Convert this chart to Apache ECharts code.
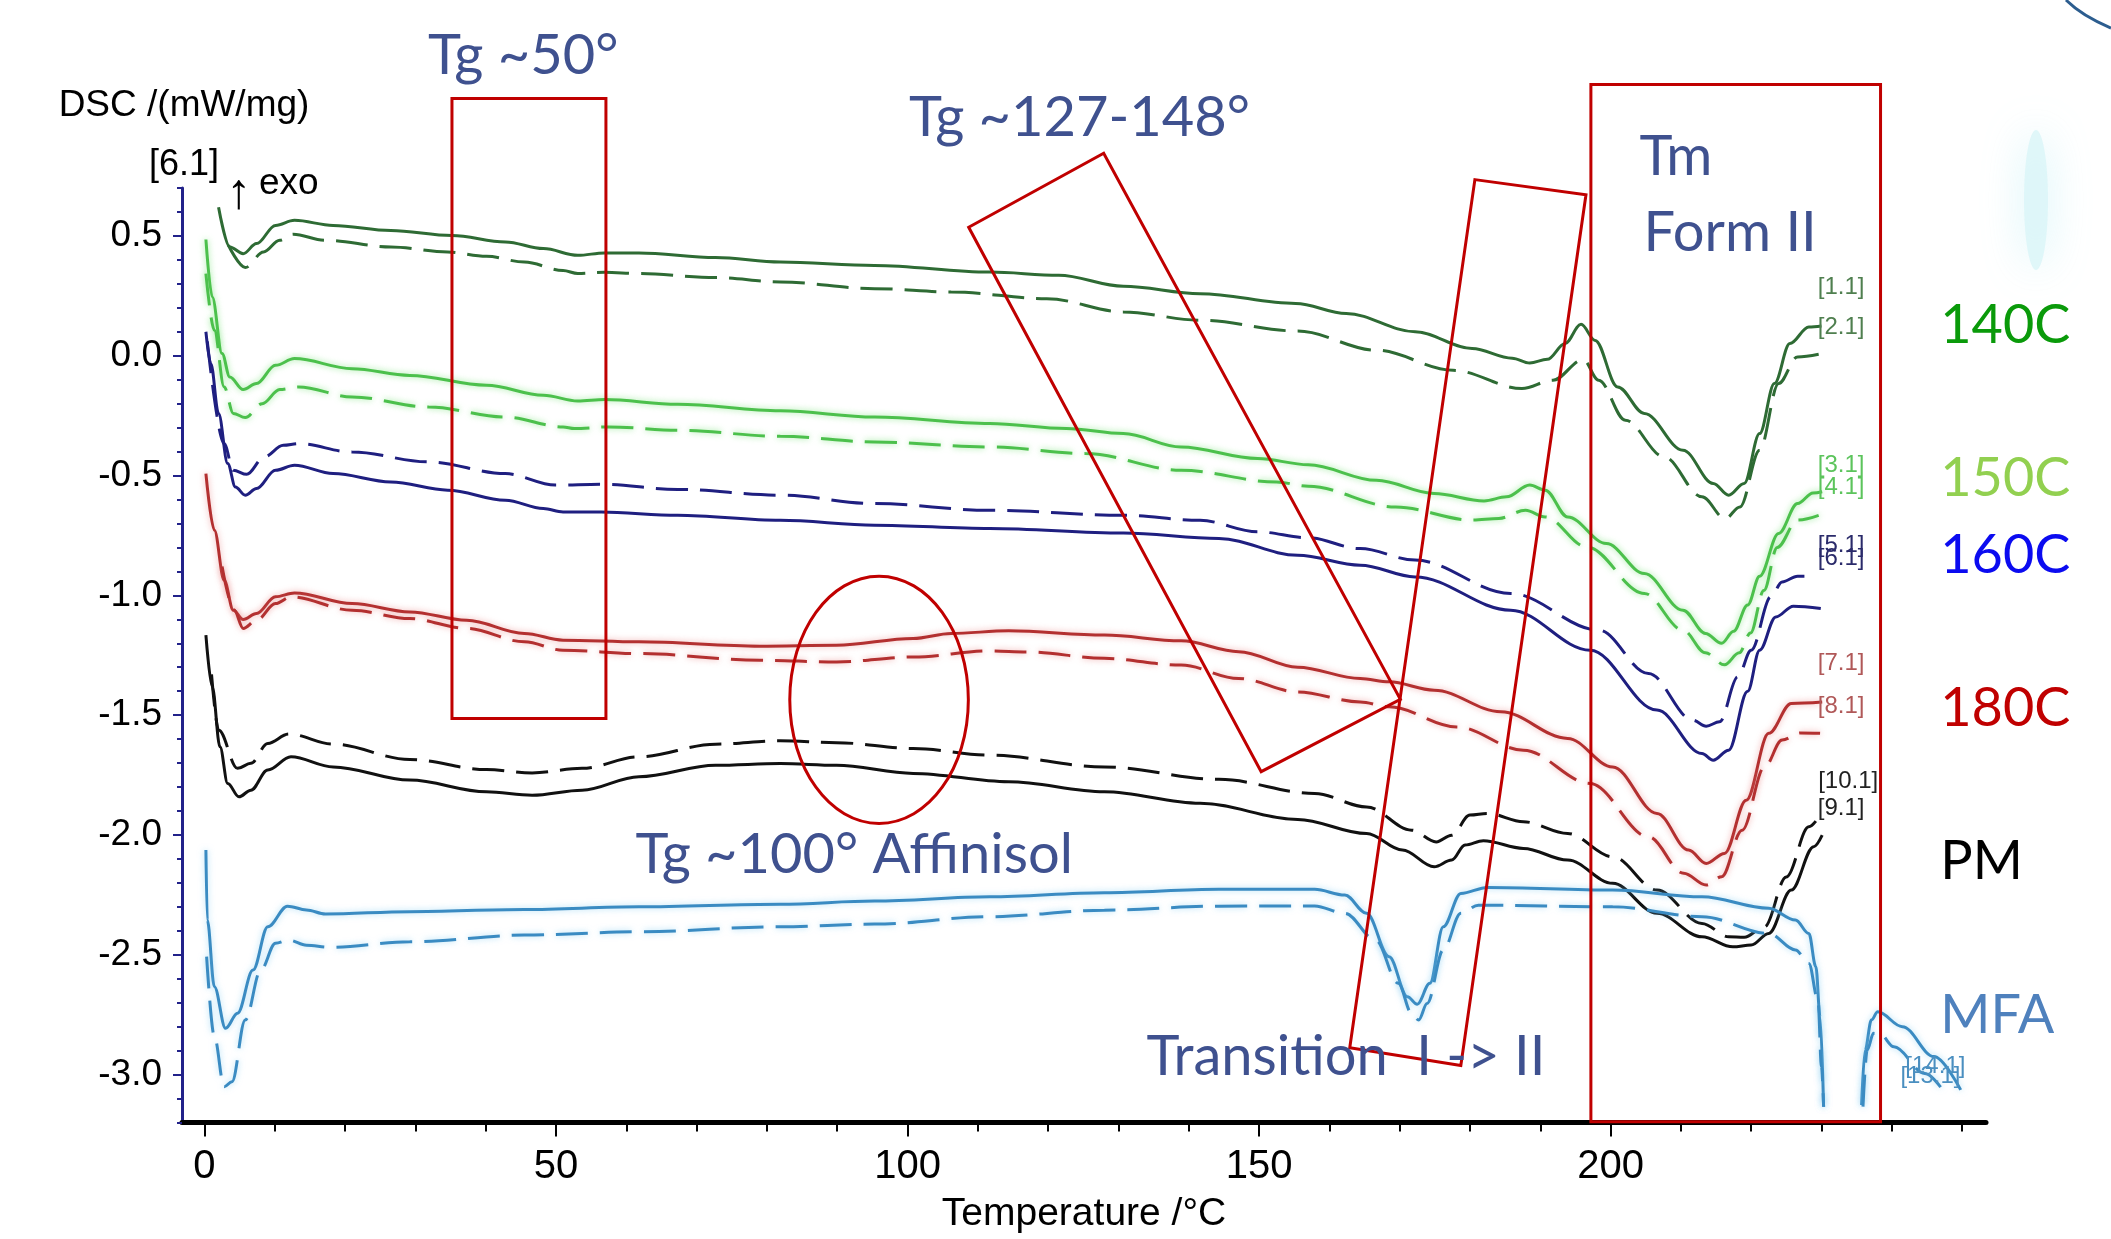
<!DOCTYPE html>
<html>
<head>
<meta charset="utf-8">
<title>DSC</title>
<script src="https://cdn.jsdelivr.net/npm/echarts@6/dist/echarts.min.js"></script>
<style>
html, body { margin: 0; padding: 0; background: #fff; }
#chart { width: 2111px; height: 1239px; }
</style>
</head>
<body>
<div id="chart"></div>
<script>
// tick positions
const xMajorTicks = [0, 50, 100, 150, 200];
const xMinorTicks = [10, 20, 30, 40, 60, 70, 80, 90, 110, 120, 130, 140, 160, 170, 180, 190, 210, 220, 230, 240, 250];
const yMajorTicks = [-3.0, -2.5, -2.0, -1.5, -1.0, -0.5, 0.0, 0.5];
const yMinorTicks = [-3.2, -3.1, -2.9, -2.8, -2.7, -2.6, -2.4, -2.3, -2.2, -2.1, -1.9, -1.8, -1.7, -1.6,
  -1.4, -1.3, -1.2, -1.1, -0.9, -0.8, -0.7, -0.6, -0.4, -0.3, -0.2, -0.1, 0.1, 0.2, 0.3, 0.4, 0.6, 0.7];

// [temperature, DSC]
const s140 = [[2.0,0.62],[3.6,0.454],[5.5,0.426],[7.4,0.468],[10.1,0.544],[12.8,0.565],[18.3,0.544],[26.5,0.523],[35.2,0.502],[42.8,0.475],[48.2,0.447],[53.1,0.419],[56.9,0.429],[61.8,0.429],[72.7,0.41],[81.9,0.391],[95.3,0.377],[111.7,0.349],[121.5,0.336],[130.7,0.29],[141.6,0.259],[155.2,0.218],[162.4,0.176],[172.2,0.1],[180.3,0.03],[186,-0.01],[188.5,-0.03],[191,-0.015],[193.5,0.05],[195.8,0.131],[197.8,0.064],[201,-0.13],[204.8,-0.241],[210.3,-0.394],[214.6,-0.533],[216.8,-0.582],[219,-0.533],[221.2,-0.325],[223.3,-0.116],[225.5,0.051],[228.2,0.12],[230,0.124]];
const d140 = [[3.4,0.461],[5.8,0.368],[8.4,0.433],[10.7,0.482],[12.6,0.507],[17.1,0.482],[26.5,0.454],[34.6,0.433],[40.1,0.415],[45.5,0.391],[51,0.356],[53.1,0.343],[56.9,0.348],[61.8,0.343],[72.7,0.326],[81.9,0.308],[95.3,0.28],[106.2,0.266],[119.8,0.238],[130.7,0.183],[141.6,0.148],[155.5,0.103],[166.7,0.023],[177.6,-0.061],[187.4,-0.137],[191.8,-0.102],[196.1,-0.016],[198.3,-0.102],[202.1,-0.269],[207.6,-0.422],[213,-0.589],[216.3,-0.68],[218.4,-0.631],[221.2,-0.394],[223.9,-0.116],[226.6,-0.005],[229.6,0.006]];
const s150 = [[0.2,0.485],[1.1,0.245],[2.5,0.009],[3.6,-0.089],[5.5,-0.141],[7.4,-0.116],[10.1,-0.04],[12.8,-0.012],[21,-0.054],[29.2,-0.082],[40.1,-0.123],[48.2,-0.165],[53.1,-0.189],[56.9,-0.183],[67.3,-0.203],[81.9,-0.23],[95.3,-0.256],[111.7,-0.283],[122.6,-0.304],[130.7,-0.325],[138.9,-0.381],[149.8,-0.429],[157,-0.455],[166.7,-0.52],[174.9,-0.575],[182,-0.606],[185.2,-0.589],[188.5,-0.54],[190.7,-0.561],[193.9,-0.673],[199.4,-0.784],[204.8,-0.909],[210.3,-1.062],[213.5,-1.159],[215.8,-1.2],[217.5,-1.15],[219.5,-1.04],[221.2,-0.92],[223.9,-0.742],[226.6,-0.617],[228.8,-0.573],[230.1,-0.568]];
const d150 = [[0.2,0.343],[1.4,0.106],[2.8,-0.13],[4.1,-0.241],[5.8,-0.258],[8.2,-0.2],[10.7,-0.141],[13.4,-0.13],[21,-0.172],[31.9,-0.214],[42.8,-0.256],[51,-0.297],[52.6,-0.304],[57.5,-0.297],[67.3,-0.311],[81.9,-0.336],[95.3,-0.36],[111.7,-0.381],[125.3,-0.408],[138.9,-0.478],[152.5,-0.527],[157,-0.545],[169.4,-0.631],[180.3,-0.686],[184.1,-0.679],[187.9,-0.645],[190.7,-0.673],[196.6,-0.798],[204.8,-0.992],[210.3,-1.145],[213.5,-1.24],[216.2,-1.29],[218.3,-1.24],[219.9,-1.157],[221.8,-0.98],[223.7,-0.8],[226.6,-0.686],[229.6,-0.666]];
const s160 = [[0.2,0.1],[0.9,-0.033],[2,-0.241],[3.3,-0.45],[4.4,-0.548],[5.8,-0.582],[7.4,-0.554],[10.1,-0.478],[12.8,-0.457],[18.3,-0.492],[26.5,-0.527],[34.6,-0.561],[42.8,-0.603],[48.2,-0.638],[51,-0.652],[56.4,-0.652],[67.3,-0.666],[81.9,-0.687],[95.3,-0.707],[111.7,-0.721],[130.7,-0.74],[144.3,-0.763],[155.5,-0.833],[164.4,-0.874],[172.2,-0.923],[185.8,-1.062],[197.1,-1.229],[206.6,-1.479],[213,-1.66],[214.6,-1.688],[216.8,-1.646],[219.5,-1.4],[221.2,-1.229],[223.5,-1.09],[226,-1.045],[229.9,-1.055]];
const d160 = [[0.4,0.06],[2.8,-0.367],[4.1,-0.478],[6,-0.495],[8.5,-0.422],[11.2,-0.374],[13.4,-0.367],[21,-0.402],[31.9,-0.443],[42.8,-0.492],[49.9,-0.54],[56.4,-0.536],[67.3,-0.558],[81.9,-0.582],[95.3,-0.617],[111.7,-0.645],[130.7,-0.666],[141.6,-0.687],[149.8,-0.735],[157,-0.76],[164.4,-0.805],[172.2,-0.853],[185.8,-0.992],[198.3,-1.145],[205.4,-1.326],[211.7,-1.521],[213.6,-1.546],[215.5,-1.528],[218.1,-1.34],[220,-1.229],[222.8,-1.006],[224.4,-0.944],[226.6,-0.92],[229,-0.92]];
const s180 = [[0.2,-0.492],[1.4,-0.728],[2.8,-0.937],[4.1,-1.062],[5.5,-1.101],[7.4,-1.076],[10.1,-1.006],[12.8,-0.99],[21,-1.034],[29.2,-1.069],[37.3,-1.104],[45.5,-1.159],[51,-1.187],[61.8,-1.194],[79,-1.212],[89.9,-1.208],[100.8,-1.18],[106.2,-1.159],[114.4,-1.148],[128,-1.166],[138.9,-1.19],[147.1,-1.235],[155.5,-1.3],[164.4,-1.347],[168.5,-1.361],[174.9,-1.396],[184.4,-1.486],[193.9,-1.597],[200.3,-1.716],[206.6,-1.91],[211.1,-2.063],[213.6,-2.119],[216.2,-2.077],[219.3,-1.855],[222.5,-1.576],[225.7,-1.451],[230.1,-1.445]];
const d180 = [[2.5,-0.88],[4.2,-1.06],[5.5,-1.138],[7.4,-1.104],[10.1,-1.034],[12.3,-1.006],[21,-1.062],[29.2,-1.097],[37.3,-1.138],[45.5,-1.194],[51,-1.229],[61.8,-1.243],[79,-1.271],[89.9,-1.278],[100.8,-1.257],[111.7,-1.232],[117.1,-1.236],[128,-1.263],[138.9,-1.291],[147.1,-1.347],[155.5,-1.403],[164.4,-1.445],[168.5,-1.465],[178.1,-1.549],[187.6,-1.646],[197.1,-1.785],[205.4,-2.008],[210.4,-2.16],[213.6,-2.209],[215.8,-2.174],[218.7,-1.98],[221.9,-1.716],[224.4,-1.604],[227,-1.574],[229.8,-1.576]];
const sPM = [[0.2,-1.166],[1.1,-1.382],[2.2,-1.632],[3.3,-1.785],[4.9,-1.841],[6.6,-1.813],[9,-1.729],[12.3,-1.674],[18.3,-1.716],[29.2,-1.771],[40.1,-1.82],[46.6,-1.834],[53.7,-1.813],[61.8,-1.757],[72.7,-1.709],[81.9,-1.702],[89.9,-1.709],[100.8,-1.743],[114.4,-1.778],[128,-1.82],[141.6,-1.868],[155.5,-1.935],[165.3,-1.994],[170.4,-2.063],[174.9,-2.133],[177.4,-2.105],[179.3,-2.042],[181.9,-2.024],[187.6,-2.056],[193.9,-2.105],[200.3,-2.202],[206.6,-2.327],[213,-2.425],[217.4,-2.467],[220,-2.459],[222.5,-2.411],[225.7,-2.23],[228.9,-2.049],[230.1,-2.001]];
const dPM = [[1.0,-1.33],[2,-1.562],[4.7,-1.722],[6.6,-1.701],[9,-1.618],[12,-1.579],[18.3,-1.621],[29.2,-1.685],[40.1,-1.727],[46.6,-1.741],[53.7,-1.722],[61.8,-1.674],[72.7,-1.621],[81.9,-1.607],[89.9,-1.615],[100.8,-1.639],[111.7,-1.667],[128,-1.716],[144.3,-1.768],[157.9,-1.827],[165.3,-1.883],[171.7,-1.98],[175.2,-2.029],[177.4,-2.001],[180,-1.917],[182.5,-1.91],[187.6,-1.945],[193.9,-1.994],[200.3,-2.091],[206.6,-2.23],[213,-2.369],[216.8,-2.425],[219,-2.427],[221.9,-2.383],[225,-2.175],[228.2,-1.966],[230.1,-1.903]];
const sMFA = [[0.2,-2.063],[0.4,-2.355],[1.4,-2.633],[3,-2.807],[4.7,-2.744],[6.9,-2.564],[9,-2.383],[11.8,-2.297],[14.5,-2.313],[17.2,-2.33],[29.2,-2.32],[45.5,-2.311],[61.8,-2.3],[81.9,-2.289],[95.3,-2.276],[111.7,-2.258],[128,-2.241],[144.3,-2.227],[157.9,-2.227],[162.2,-2.251],[165.3,-2.327],[168.5,-2.508],[171.1,-2.675],[172.5,-2.706],[174.3,-2.619],[176.2,-2.383],[178.7,-2.244],[182.5,-2.219],[200.3,-2.23],[213,-2.258],[222.5,-2.306],[226.3,-2.355],[228.2,-2.411],[229.2,-2.55],[229.8,-2.759],[230.3,-3.134]];
const sMFAtail = [[235.7,-3.127],[236.2,-2.898],[237.1,-2.772],[238,-2.738],[241.5,-2.8],[246,-2.925],[249.8,-3.064]];
const dMFA = [[0.3,-2.508],[1.4,-2.842],[2.8,-3.051],[3.9,-3.03],[5.8,-2.772],[8,-2.564],[10.1,-2.452],[12,-2.439],[14.5,-2.46],[17.8,-2.469],[29.2,-2.446],[45.5,-2.418],[61.8,-2.404],[81.9,-2.383],[95.3,-2.372],[111.7,-2.341],[128,-2.314],[144.3,-2.297],[157.9,-2.296],[162.2,-2.327],[166.6,-2.439],[169.8,-2.619],[171.7,-2.744],[172.7,-2.772],[173.9,-2.703],[176.2,-2.48],[178.7,-2.327],[181.2,-2.293],[200.3,-2.3],[213,-2.341],[222.5,-2.411],[226.3,-2.48],[228.2,-2.536],[229.5,-2.689],[230,-2.967],[230.3,-3.134]];
const dMFAtail = [[235.9,-3.134],[236.5,-2.898],[237.4,-2.828],[238.3,-2.83],[240.3,-2.884],[244.7,-2.995],[247.9,-3.092]];

const AXIS_FONT = '"Liberation Sans Narrow", "Liberation Sans", Arial, sans-serif';
const NOTE_FONT = 'Lato, "Open Sans", sans-serif';
const RED = '#c00000';
const NOTE = '#3f518f';

function curve(name, data, color, dashed, glow) {
  return {
    type: 'line',
    name: name,
    data: data,
    showSymbol: false,
    smooth: 0.35,
    smoothMonotone: 'x',
    lineStyle: {
      color: color,
      width: 3,
      type: dashed ? [32, 12] : 'solid',
      shadowBlur: glow ? 6 : 0,
      shadowColor: glow || 'transparent'
    }
  }
}

const option = {
  animation: false,
  backgroundColor: '#fff',
  grid: { left: 182, right: 125, top: 188, bottom: 115 },
  xAxis: [
    {
      type: 'value', min: -3.2, max: 253.4,
      name: 'Temperature /°C', nameLocation: 'middle', nameGap: 92,
      nameTextStyle: { fontFamily: AXIS_FONT, fontSize: 39, color: '#000', verticalAlign: 'middle' },
      axisLine: { onZero: false, lineStyle: { color: '#000', width: 5 } },
      axisTick: { customValues: xMajorTicks, length: 14, lineStyle: { color: '#000', width: 2 } },
      axisLabel: { customValues: xMajorTicks, margin: 24, fontFamily: AXIS_FONT, fontSize: 40, color: '#000' },
      splitLine: { show: false }
    },
    {
      type: 'value', min: -3.2, max: 253.4, position: 'bottom',
      axisLine: { show: false, onZero: false },
      axisTick: { customValues: xMinorTicks, length: 9, lineStyle: { color: '#000', width: 2 } },
      axisLabel: { show: false },
      splitLine: { show: false }
    }
  ],
  yAxis: [
    {
      type: 'value', min: -3.2, max: 0.7,
      axisLine: { show: true, onZero: false, lineStyle: { color: '#22228a', width: 3 } },
      axisTick: { show: true, customValues: yMajorTicks, length: 9, lineStyle: { color: '#22228a', width: 2 } },
      axisLabel: {
        customValues: yMajorTicks, margin: 20, fontFamily: AXIS_FONT, fontSize: 37, color: '#000',
        formatter: v => v.toFixed(1)
      },
      splitLine: { show: false }
    },
    {
      type: 'value', min: -3.2, max: 0.7, position: 'left',
      axisLine: { show: false, onZero: false },
      axisTick: { show: true, customValues: yMinorTicks, length: 5, lineStyle: { color: '#22228a', width: 2 } },
      axisLabel: { show: false },
      splitLine: { show: false }
    }
  ],
  series: [
    curve('140C [1.1]', s140, '#2e6b34', false, null),
    curve('140C [2.1]', d140, '#2e6b34', true, null),
    curve('150C [3.1]', s150, '#4cc04c', false, 'rgba(90,220,90,0.6)'),
    curve('150C [4.1]', d150, '#4cc04c', true, 'rgba(90,220,90,0.6)'),
    curve('160C [6.1]', s160, '#1f1f80', false, null),
    curve('160C [5.1]', d160, '#1f1f80', true, null),
    curve('180C [7.1]', s180, '#b33030', false, 'rgba(230,120,120,0.6)'),
    curve('180C [8.1]', d180, '#b33030', true, 'rgba(230,120,120,0.6)'),
    curve('PM [9.1]', sPM, '#111', false, null),
    curve('PM [10.1]', dPM, '#111', true, null),
    curve('MFA [14.1]', sMFA, '#3a8bc2', false, 'rgba(120,200,240,0.6)'),
    curve('MFA [14.1] tail', sMFAtail, '#3a8bc2', false, 'rgba(120,200,240,0.6)'),
    curve('MFA [13.1]', dMFA, '#3a8bc2', true, 'rgba(120,200,240,0.6)'),
    curve('MFA [13.1] tail', dMFAtail, '#3a8bc2', true, 'rgba(120,200,240,0.6)')
  ]
};

const chart = echarts.init(document.getElementById('chart'));
chart.setOption(option);

// annotations, placed in data coordinates
const boxes = [
  [[35.2, 1.073], [57.1, 1.073], [57.1, -1.514], [35.2, -1.514]],
  [[108.7, 0.536], [127.9, 0.845], [170.1, -1.434], [150.3, -1.736]],
  [[180.7, 0.735], [196.5, 0.672], [178.7, -2.962], [162.9, -2.888]],
  [[197.2, 1.132], [238.4, 1.132], [238.4, -3.197], [197.2, -3.197]]
];
const ring = { center: [95.95, -1.436], rT: 12.7, rV: 0.516 };
const notes = [
  ['Tg ~50°', 31.8, 1.253, NOTE, 56],
  ['Tg ~127-148°', 100.2, 0.991, NOTE, 56],
  ['Tm', 204.1, 0.831, NOTE, 56],
  ['Form II', 204.7, 0.511, NOTE, 56],
  ['Tg ~100° Affinisol', 61.3, -2.084, NOTE, 56],
  ['Transition  I -> II', 134.0, -2.926, NOTE, 56],
  ['140C', 246.9, 0.126, '#0a9a0a', 54],
  ['150C', 246.9, -0.513, '#92d050', 54],
  ['160C', 246.9, -0.833, '#0b0bf0', 54],
  ['180C', 246.9, -1.472, '#c00000', 54],
  ['PM', 246.9, -2.112, '#000000', 54],
  ['MFA', 246.9, -2.752, '#4f81bd', 54]
];
const tags = [
  ['[1.1]', 232.8, 0.287, '#4f7f4f'],
  ['[2.1]', 232.8, 0.117, '#4f7f4f'],
  ['[3.1]', 232.8, -0.457, '#5cc45c'],
  ['[4.1]', 232.8, -0.548, '#5cc45c'],
  ['[5.1]', 232.8, -0.791, '#2a2a6a'],
  ['[6.1]', 232.8, -0.846, '#2a2a6a'],
  ['[7.1]', 232.8, -1.284, '#b05858'],
  ['[8.1]', 232.8, -1.465, '#b05858'],
  ['[10.1]', 233.8, -1.778, '#222222'],
  ['[9.1]', 232.8, -1.889, '#222222'],
  ['[14.1]', 246.2, -2.967, '#4a8fc0'],
  ['[13.1]', 245.5, -3.009, '#4a8fc0']
];

const px = p => chart.convertToPixel({ xAxisIndex: 0, yAxisIndex: 0 }, p);
const graphic = [];

boxes.forEach(b => {
  graphic.push({
    type: 'polygon', z: 100,
    shape: { points: b.map(px) },
    style: { fill: 'none', stroke: RED, lineWidth: 3 }
  });
});
const c = px(ring.center);
const e = px([ring.center[0] + ring.rT, ring.center[1] - ring.rV]);
graphic.push({
  type: 'ellipse', z: 100,
  shape: { cx: c[0], cy: c[1], rx: e[0] - c[0], ry: e[1] - c[1] },
  style: { fill: 'none', stroke: RED, lineWidth: 3 }
});
notes.forEach(n => {
  const p = px([n[1], n[2]]);
  graphic.push({
    type: 'text', z: 101, x: p[0], y: p[1],
    style: { text: n[0], fill: n[3], font: n[4] + 'px ' + NOTE_FONT, align: 'left', verticalAlign: 'middle' }
  });
});
tags.forEach(t => {
  const p = px([t[1], t[2]]);
  graphic.push({
    type: 'text', z: 101, x: p[0], y: p[1],
    style: { text: t[0], fill: t[3], font: '24px ' + AXIS_FONT, align: 'center', verticalAlign: 'middle' }
  });
});

// axis header texts
graphic.push(
  { type: 'text', z: 101, x: 184, y: 106,
    style: { text: 'DSC /(mW/mg)', fill: '#000', font: '37px ' + AXIS_FONT, align: 'center', verticalAlign: 'middle' } },
  { type: 'text', z: 101, x: 149, y: 165,
    style: { text: '[6.1]', fill: '#000', font: '36px ' + AXIS_FONT, align: 'left', verticalAlign: 'middle' } },
  { type: 'text', z: 101, x: 239, y: 194,
    style: { text: '↑', fill: '#000', font: '50px ' + AXIS_FONT, align: 'center', verticalAlign: 'middle' } },
  { type: 'text', z: 101, x: 259, y: 184,
    style: { text: 'exo', fill: '#000', font: '37px ' + AXIS_FONT, align: 'left', verticalAlign: 'middle' } }
);

// slide decoration at the top right
graphic.push(
  { type: 'ellipse', z: 0, shape: { cx: 2036, cy: 200, rx: 12, ry: 70 },
    style: { fill: 'rgba(218,245,248,0.8)', shadowBlur: 40, shadowColor: 'rgba(205,242,247,1)' } },
  { type: 'bezierCurve', z: 0,
    shape: { x1: 2066, y1: 0, x2: 2111, y2: 28, cpx1: 2082, cpy1: 16 },
    style: { stroke: '#2c5d8f', lineWidth: 3, fill: 'none' } }
);

chart.setOption({ graphic: graphic });
</script>
</body>
</html>
